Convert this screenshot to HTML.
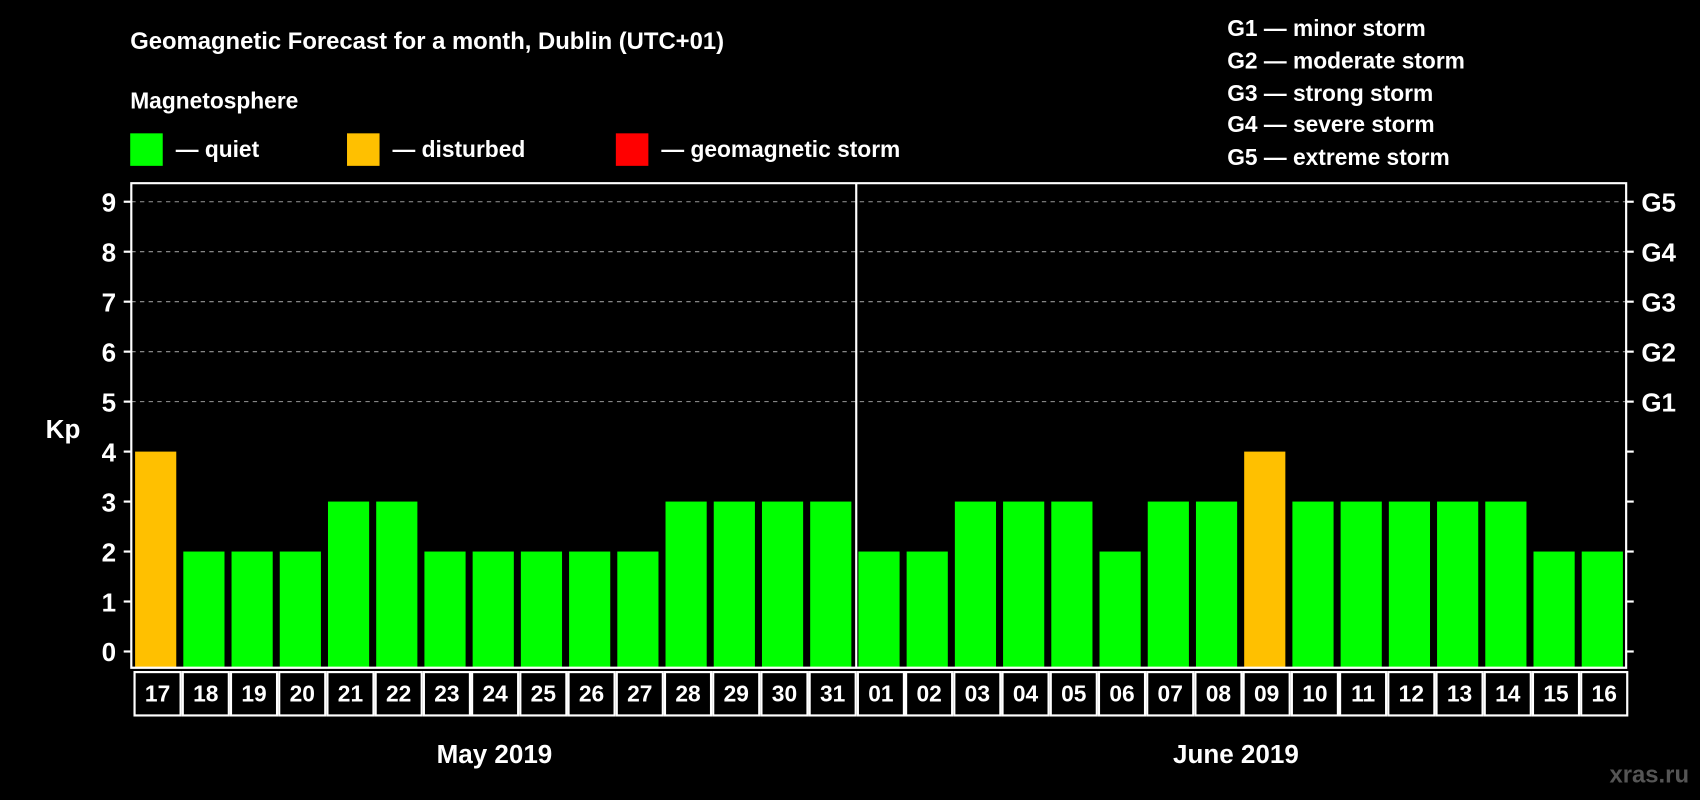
<!DOCTYPE html>
<html><head><meta charset="utf-8"><style>
html,body{margin:0;padding:0;background:#000;}
svg{display:block;font-family:"Liberation Sans",Arial,sans-serif;font-weight:bold;}
</style></head><body>
<svg id="chart" width="1700" height="800" viewBox="0 0 1568 738" xmlns="http://www.w3.org/2000/svg">
<rect width="1568" height="738" fill="#000"/>
<text x="120" y="45" fill="#fff" font-size="22">Geomagnetic Forecast for a month, Dublin (UTC+01)</text>
<text x="120" y="100" fill="#fff" font-size="21">Magnetosphere</text>
<g><rect x="120" y="123" width="30" height="30" fill="#00ff00"/><text x="162" y="145" fill="#fff" font-size="21">— quiet</text></g>
<g><rect x="320" y="123" width="30" height="30" fill="#ffc000"/><text x="362" y="145" fill="#fff" font-size="21">— disturbed</text></g>
<g><rect x="568" y="123" width="30" height="30" fill="#ff0000"/><text x="610" y="145" fill="#fff" font-size="21">— geomagnetic storm</text></g>
<g fill="#fff" font-size="21">
<text x="1132" y="33">G1 — minor storm</text>
<text x="1132" y="63">G2 — moderate storm</text>
<text x="1132" y="93">G3 — strong storm</text>
<text x="1132" y="122">G4 — severe storm</text>
<text x="1132" y="152">G5 — extreme storm</text>
</g>
<text x="58" y="404" fill="#fff" font-size="24" text-anchor="middle">Kp</text>
<g id="grid"></g><g id="bars"></g><g id="axes"></g>
<text x="456" y="704" fill="#fff" font-size="24" text-anchor="middle">May 2019</text>
<text x="1140" y="704" fill="#fff" font-size="24" text-anchor="middle">June 2019</text>
<text x="1558" y="722" fill="#555" font-size="22" text-anchor="end">xras.ru</text>
</svg>
<script>
const days=["17","18","19","20","21","22","23","24","25","26","27","28","29","30","31","01","02","03","04","05","06","07","08","09","10","11","12","13","14","15","16"];
const kpValues=[4,2,2,2,3,3,2,2,2,2,2,3,3,3,3,2,2,3,3,3,2,3,3,4,3,3,3,3,3,2,2];
const yTicks=[0,1,2,3,4,5,6,7,8,9];
const gLabels=["","","","","","G1","G2","G3","G4","G5"];
const NS="http://www.w3.org/2000/svg";
const L=121,R=1500,T=169,B=616;
const n=days.length, slot=(R-L)/n, bw=slot-6.5;
const y=v=>601-v*46.1;
const x=i=>L+i*slot;
function mk(tag,attrs,parent){const e=document.createElementNS(NS,tag);for(const k in attrs)e.setAttribute(k,attrs[k]);parent.appendChild(e);return e;}
const grid=document.getElementById('grid'),bars=document.getElementById('bars'),axes=document.getElementById('axes');
yTicks.forEach((t,i)=>{
  if(t>=5){const g=mk('line',{x1:L,x2:R,y1:y(t),y2:y(t),stroke:'#999','stroke-width':1,'stroke-dasharray':'4,4'},grid);
    
    }
  const tl=mk('line',{x1:L-7,x2:L,y1:y(t),y2:y(t),stroke:'#fff','stroke-width':2},axes);
  
  
  const tr=mk('line',{x1:R,x2:R+7,y1:y(t),y2:y(t),stroke:'#fff','stroke-width':2},axes);
  
  
  const lb=mk('text',{x:L-14,y:y(t)+9,fill:'#fff','font-size':24,'text-anchor':'end'},axes);lb.textContent=t;
  
  
  if(gLabels[i]){const gl=mk('text',{x:R+14,y:y(t)+9,fill:'#fff','font-size':24},axes);gl.textContent=gLabels[i];
    
    }
});
days.forEach((d,i)=>{
  const v=kpValues[i];
  const b=mk('rect',{x:x(i)+3.5,y:y(v),width:bw,height:B-y(v),fill:v>=5?'#ff0000':(v>=4?'#ffc000':'#00ff00')},bars);
  
  
  const bx=mk('rect',{x:x(i)+3,y:620,width:slot-2,height:40,fill:'none',stroke:'#fff','stroke-width':2},axes);
  
  
  const t=mk('text',{x:x(i)+slot/2+2,y:647,fill:'#fff','font-size':21,'text-anchor':'middle'},axes);t.textContent=d;
  
  
});
const fr=mk('path',{d:`M${L},${T}H${R}V${B}H${L}Z`,fill:'none',stroke:'#fff','stroke-width':2},axes);


const sepIdx=days.indexOf("01");
const sp=mk('line',{x1:x(sepIdx)+1.5,x2:x(sepIdx)+1.5,y1:T,y2:B,stroke:'#fff','stroke-width':2},axes);


</script>
</body></html>
